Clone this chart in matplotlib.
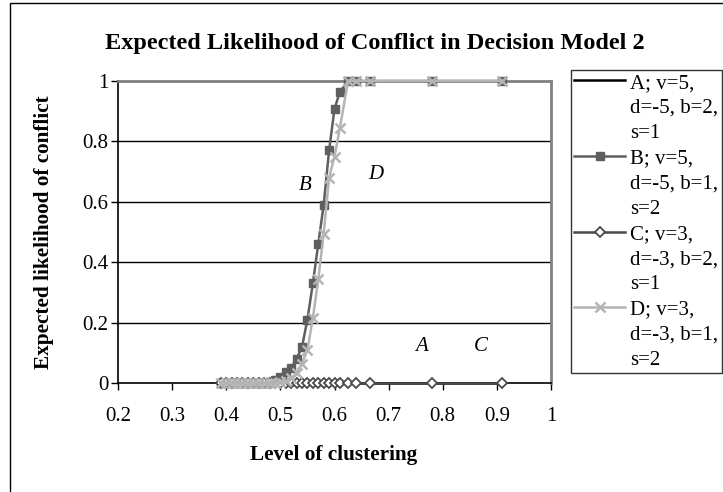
import matplotlib
matplotlib.use("Agg")
import matplotlib.pyplot as plt
from matplotlib.lines import Line2D
from matplotlib.patches import Rectangle

plt.rcParams['font.family'] = ['Liberation Serif', 'DejaVu Serif']

# ---- data ----
clustering = [0.39, 0.40, 0.41, 0.42, 0.43, 0.44, 0.45, 0.46, 0.47, 0.48, 0.49,
              0.50, 0.51, 0.52, 0.53, 0.54, 0.55, 0.56, 0.57, 0.58, 0.59, 0.60,
              0.61, 0.625, 0.64, 0.665, 0.78, 0.91]
series_a = [0.0] * 28
series_b = [0, 0, 0, 0, 0, 0, 0, 0, 0, 0.004, 0.01,
            0.02, 0.035, 0.05, 0.08, 0.12, 0.21, 0.33, 0.46, 0.59, 0.77, 0.908,
            0.964, 1, 1, 1, 1, 1]
series_c = [0.0] * 28
series_d = [0, 0, 0, 0, 0, 0, 0, 0, 0, 0, 0,
            0.003, 0.008, 0.015, 0.034, 0.064, 0.11, 0.215, 0.343, 0.495, 0.68, 0.75,
            0.845, 1, 1, 1, 1, 1]
legend_lines = {
    'A': ['A; v=5,', 'd=-5, b=2,', 's=1'],
    'B': ['B; v=5,', 'd=-5, b=1,', 's=2'],
    'C': ['C; v=3,', 'd=-3, b=2,', 's=1'],
    'D': ['D; v=3,', 'd=-3, b=1,', 's=2'],
}
x_ticks = [0.2, 0.3, 0.4, 0.5, 0.6, 0.7, 0.8, 0.9, 1.0]
x_ticklabels = ['0.2', '0.3', '0.4', '0.5', '0.6', '0.7', '0.8', '0.9', '1']
y_ticks = [0, 0.2, 0.4, 0.6, 0.8, 1.0]
y_ticklabels = ['0', '0.2', '0.4', '0.6', '0.8', '1']
curve_labels = [('B', 0.546, 0.655), ('D', 0.676, 0.69), ('A', 0.761, 0.12), ('C', 0.87, 0.12)]

W, H = 723, 492
fig = plt.figure(figsize=(W / 100, H / 100), dpi=100)
ax = fig.add_axes([118 / W, 1 - 383 / H, (551 - 118) / W, (383 - 81) / H])

fs = 15
ax.set_xlim(0.2, 1.0)
ax.set_ylim(0, 1.0)
for yv in y_ticks[1:-1]:
    ax.axhline(yv, color='black', lw=1.0, zorder=1)

colA, colB, colC, colD = '#000000', '#5f5f5f', '#4a4a4a', '#b4b4b4'
lA, = ax.plot(clustering, series_a, color=colA, lw=1.8, zorder=3, clip_on=False)
lB, = ax.plot(clustering, series_b, color=colB, lw=1.8, marker='s', ms=6,
              mfc=colB, mec=colB, zorder=4, clip_on=False)
lC, = ax.plot(clustering, series_c, color=colC, lw=1.8, marker='D', ms=5.5,
              mfc='white', mec=colC, mew=1.3, zorder=5, clip_on=False)
lD, = ax.plot(clustering, series_d, color=colD, lw=1.8, marker='x', ms=7,
              mec=colD, mew=1.8, zorder=6, clip_on=False)

for name, xv, yv in curve_labels:
    ax.text(xv, yv, name, fontsize=fs, style='italic', ha='center', va='center')

ax.set_xticks(x_ticks)
ax.set_xticklabels(x_ticklabels, fontsize=fs)
ax.set_yticks(y_ticks)
ax.set_yticklabels(y_ticklabels, fontsize=fs)
ax.tick_params(axis='x', direction='out', length=5, width=1, pad=12)
ax.tick_params(axis='y', direction='out', length=5, width=1, pad=2)

for s in ['top', 'right']:
    ax.spines[s].set_color('#808080')
    ax.spines[s].set_linewidth(2)
for s in ['left', 'bottom']:
    ax.spines[s].set_color('black')
    ax.spines[s].set_linewidth(1.2)

fig.text(375 / W, 1 - 43 / H, 'Expected Likelihood of Conflict in Decision Model 2',
         fontsize=17.5, fontweight='bold', ha='center', va='center')
fig.text(334 / W, 1 - 455 / H, 'Level of clustering', fontsize=15.3,
         fontweight='bold', ha='center', va='center')
fig.text(44 / W, 1 - 232 / H, 'Expected likelihood of conflict', fontsize=15.3,
         fontweight='bold', ha='center', va='center', rotation=90)

# outer chart border
fig.patches.append(Rectangle((10 / W, -0.2), 1.5, 1 - 3 / H + 0.2, fill=False,
                             ec='black', lw=1, transform=fig.transFigure))

# legend
blank = Line2D([], [], color='none')
handles, labels = [], []
for h, key in zip([lA, lB, lC, lD], ['A', 'B', 'C', 'D']):
    lines = legend_lines[key]
    handles += [h, blank, blank]
    labels += lines
leg = fig.legend(handles, labels, loc='upper left',
                 bbox_to_anchor=(571 / W, 1 - 70 / H), fontsize=fs,
                 frameon=True, fancybox=False, edgecolor='black',
                 borderpad=0.15, labelspacing=0.27, handlelength=2.45,
                 handletextpad=0.25, borderaxespad=0)
leg.get_frame().set_linewidth(1)

fig.savefig('out.png', dpi=100)
